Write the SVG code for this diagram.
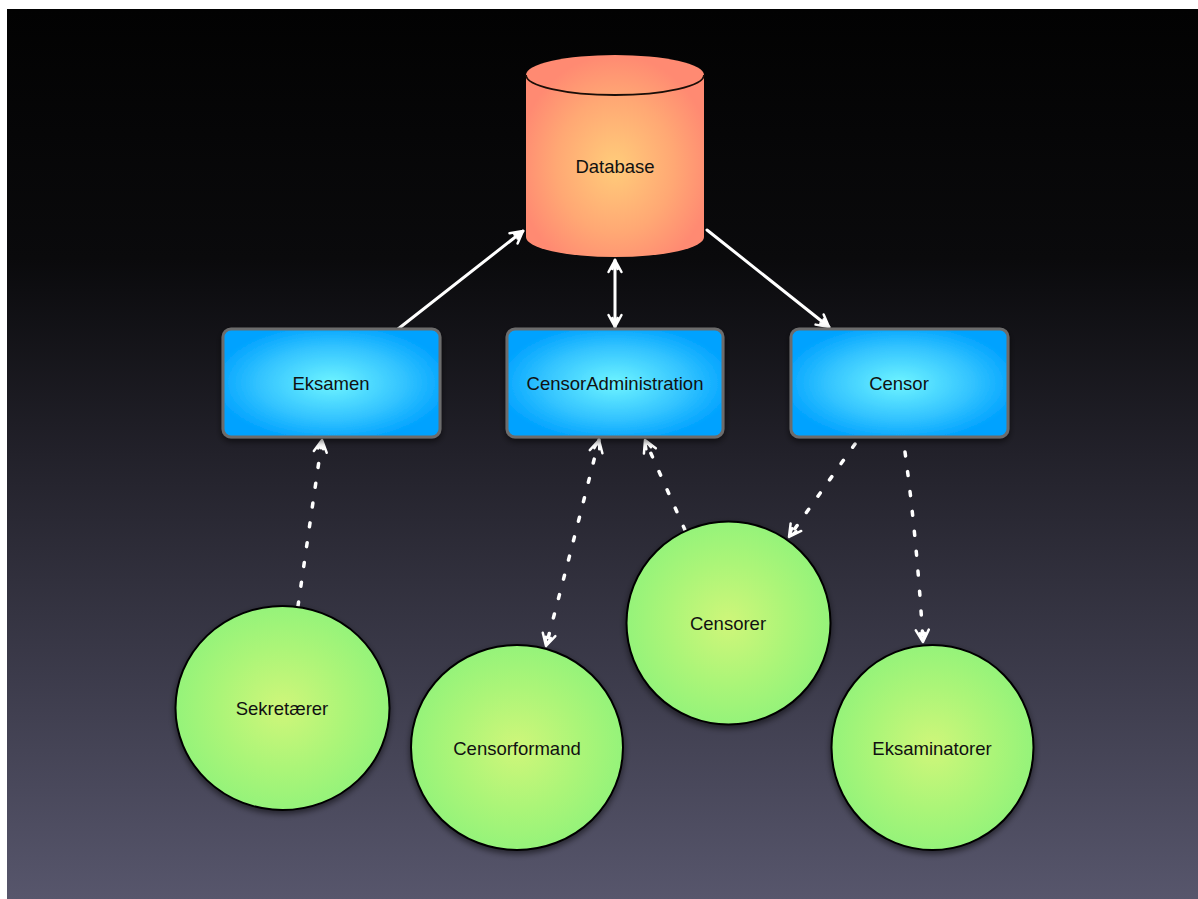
<svg xmlns="http://www.w3.org/2000/svg" width="1198" height="899" viewBox="0 0 1198 899">
  <defs>
    <linearGradient id="bg" x1="0" y1="0" x2="0" y2="1">
      <stop offset="0" stop-color="#020202"/>
      <stop offset="0.28" stop-color="#0a0a0c"/>
      <stop offset="0.5" stop-color="#22212a"/>
      <stop offset="0.75" stop-color="#3c3b4b"/>
      <stop offset="1" stop-color="#57566c"/>
    </linearGradient>
    <radialGradient id="gBlue" cx="0.5" cy="0.5" r="0.55">
      <stop offset="0" stop-color="#6ef4ff"/>
      <stop offset="0.6" stop-color="#34c4ff"/>
      <stop offset="1" stop-color="#00a2ff"/>
    </radialGradient>
    <radialGradient id="gGreen" cx="0.5" cy="0.5" r="0.5">
      <stop offset="0" stop-color="#cff67a"/>
      <stop offset="0.6" stop-color="#abf578"/>
      <stop offset="1" stop-color="#95f37a"/>
    </radialGradient>
    <radialGradient id="gDb" cx="0.5" cy="0.55" r="0.55">
      <stop offset="0" stop-color="#ffcc7a"/>
      <stop offset="0.6" stop-color="#ffa874"/>
      <stop offset="1" stop-color="#ff8a72"/>
    </radialGradient>
    <filter id="shadow" x="-20%" y="-20%" width="140%" height="150%">
      <feDropShadow dx="0" dy="3" stdDeviation="3" flood-color="#000" flood-opacity="0.55"/>
    </filter>
    <marker id="arrow" viewBox="-14 -9 16 18" markerWidth="16" markerHeight="18" refX="0" refY="0" orient="auto-start-reverse" markerUnits="userSpaceOnUse">
      <path class="head" d="M-12,-6.5 L0,0 L-12,6.5 M-9,-2.5 L0,0 L-9,2.5"/>
    </marker>
    <style>
      .head { fill: none; stroke: #ffffff; stroke-width: 2.5; stroke-linecap: round; stroke-linejoin: round; stroke-dasharray: none; }
      .solid { fill: none; stroke: #ffffff; stroke-width: 3; stroke-linecap: round; }
      .dotted { fill: none; stroke: #ffffff; stroke-width: 3.5; stroke-linecap: round; stroke-dasharray: 4 16; }
      .box { fill: url(#gBlue); stroke: #6c6c6c; stroke-width: 3; filter: url(#shadow); }
      .circ { fill: url(#gGreen); stroke: #000000; stroke-width: 2; filter: url(#shadow); }
      .label { font-family: "Liberation Sans", Arial, sans-serif; font-size: 18.5px; fill: #111111; text-anchor: middle; dominant-baseline: central; }
    </style>
  </defs>

  <rect x="0" y="0" width="1198" height="899" fill="#ffffff"/>
  <rect id="background" x="7" y="9" width="1191" height="890" fill="url(#bg)"/>

  <g id="connectors">
    <line class="solid" x1="398" y1="329" x2="523" y2="231" marker-end="url(#arrow)"/>
    <line class="solid" x1="615" y1="260" x2="615" y2="327" marker-start="url(#arrow)" marker-end="url(#arrow)"/>
    <line class="solid" x1="707" y1="230" x2="829" y2="327" marker-end="url(#arrow)"/>
    <line class="dotted" x1="298" y1="606" x2="322" y2="440" marker-end="url(#arrow)"/>
    <path class="dotted" d="M599,440 Q574,540 546,646" marker-start="url(#arrow)" marker-end="url(#arrow)"/>
    <line class="dotted" x1="685" y1="530" x2="645" y2="440" marker-end="url(#arrow)"/>
    <line class="dotted" x1="855" y1="444" x2="789" y2="537" marker-end="url(#arrow)"/>
    <path class="dotted" d="M905,452 Q917,540 923,642" marker-end="url(#arrow)"/>
  </g>

  <g id="database">
    <path d="M526,75 L526,237 A89,20 0 0 0 704,237 L704,75 A89,20 0 0 0 526,75 Z" fill="url(#gDb)"/>
    <path d="M526,75 A89,20 0 0 0 704,75" fill="none" stroke="#1a0e08" stroke-width="1.8"/>
    <text class="label" x="615" y="166">Database</text>
  </g>

  <g id="eksamen">
    <rect class="box" x="223" y="329" width="217" height="108" rx="8"/>
    <text class="label" x="331" y="383">Eksamen</text>
  </g>
  <g id="censoradministration">
    <rect class="box" x="507" y="329" width="216" height="108" rx="8"/>
    <text class="label" x="615" y="383">CensorAdministration</text>
  </g>
  <g id="censor">
    <rect class="box" x="791" y="329" width="217" height="108" rx="8"/>
    <text class="label" x="899" y="383">Censor</text>
  </g>

  <g id="sekretaerer">
    <ellipse class="circ" cx="282.5" cy="708" rx="107" ry="102"/>
    <text class="label" x="282" y="708">Sekretærer</text>
  </g>
  <g id="censorformand">
    <ellipse class="circ" cx="517" cy="747.5" rx="106" ry="102.5"/>
    <text class="label" x="517" y="748">Censorformand</text>
  </g>
  <g id="censorer">
    <ellipse class="circ" cx="728.5" cy="623" rx="102" ry="101.5"/>
    <text class="label" x="728" y="623">Censorer</text>
  </g>
  <g id="eksaminatorer">
    <ellipse class="circ" cx="932.5" cy="747.5" rx="101" ry="102.5"/>
    <text class="label" x="932" y="748">Eksaminatorer</text>
  </g>
</svg>
